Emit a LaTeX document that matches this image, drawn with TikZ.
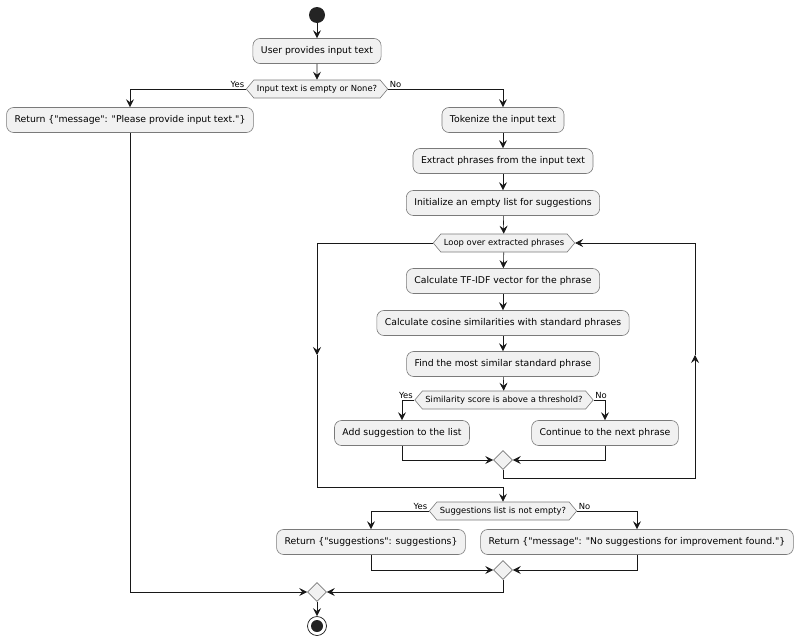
\documentclass[tikz,border=0pt]{standalone}
\usepackage{fontspec}
\setmainfont{DejaVu Sans}
\usetikzlibrary{arrows.meta,shapes.geometric,shapes.symbols}

\definecolor{caixa}{HTML}{F1F1F1}
\definecolor{linha}{HTML}{181818}
\definecolor{borda}{HTML}{7A7A7A}

\newcommand{\aspas}[1]{\textquotedbl#1\textquotedbl} % aspas retas

\tikzset{
    acao/.style={draw=borda, line width=0.6pt, fill=caixa, rounded corners=7pt,
        minimum height=25pt, inner xsep=8pt, font=\fontsize{9.3}{11}\selectfont},
    decisao/.style={draw=borda, line width=0.6pt, fill=caixa, signal, signal to=west and east,
        signal pointer angle=100, minimum height=18pt, inner xsep=3pt, inner ysep=1pt,
        font=\fontsize{8.4}{10}\selectfont},
    juncao/.style={draw=borda, line width=0.6pt, fill=caixa, diamond, minimum size=19pt, inner sep=0pt},
    fluxo/.style={draw=linha, line width=0.6pt, -{Stealth[length=8pt,width=8pt,inset=3pt]}},
    rotulo/.style={font=\fontsize{8.4}{10}\selectfont, inner sep=1.5pt}
}

\begin{document}
\begin{tikzpicture}[x=1pt, y=-1pt]
    \useasboundingbox (0,0) rectangle (800,643);

    % Início e fim
    \node[circle, fill=linha!95, minimum size=16pt, inner sep=0pt] (inicio) at (317,15) {};
    \node[circle, draw=linha, fill=white, line width=0.7pt, minimum size=19pt, inner sep=0pt] (fim) at (317,626) {};
    \fill[linha!95] (fim.center) circle (6); % Ponto interno do fim

    % Ações
    \node[acao] (entrada) at (317,51) {User provides input text};
    \node[acao] (vazio) at (130,120) {Return \{\aspas{message}: \aspas{Please provide input text.}\}};
    \node[acao] (token) at (503,120) {Tokenize the input text};
    \node[acao] (extrai) at (503,161) {Extract phrases from the input text};
    \node[acao] (lista) at (503,203) {Initialize an empty list for suggestions};
    \node[acao] (tfidf) at (503,281) {Calculate TF-IDF vector for the phrase};
    \node[acao] (cosseno) at (503,323) {Calculate cosine similarities with standard phrases};
    \node[acao] (similar) at (503,364) {Find the most similar standard phrase};
    \node[acao] (adiciona) at (402,433) {Add suggestion to the list};
    \node[acao] (continua) at (605,433) {Continue to the next phrase};
    \node[acao] (sugestoes) at (371,542) {Return \{\aspas{suggestions}: suggestions\}};
    \node[acao] (semsug) at (637,542) {Return \{\aspas{message}: \aspas{No suggestions for improvement found.}\}};

    % Decisões e laço
    \node[decisao] (teste) at (317,89) {Input text is empty or None?};
    \node[decisao] (laco) at (504,243) {Loop over extracted phrases};
    \node[decisao] (limiar) at (504,400) {Similarity score is above a threshold?};
    \node[decisao] (naovazia) at (503,511) {Suggestions list is not empty?};

    % Junções
    \node[juncao] (junta1) at (503,460) {};
    \node[juncao] (junta2) at (503,570) {};
    \node[juncao] (junta3) at (317,592) {};

    % Pontos auxiliares do laço
    \coordinate (saida1) at (317,355);
    \coordinate (saida2) at (503,487);
    \coordinate (volta1) at (695,478);
    \coordinate (volta2) at (695,355);

    % Rótulos Yes / No
    \node[rotulo, anchor=south east] at (teste.west) {Yes};
    \node[rotulo, anchor=south west] at (teste.east) {No};
    \node[rotulo, anchor=south east] at (limiar.west) {Yes};
    \node[rotulo, anchor=south west] at (limiar.east) {No};
    \node[rotulo, anchor=south east] at (naovazia.west) {Yes};
    \node[rotulo, anchor=south west] at (naovazia.east) {No};

    % Fluxo principal
    \draw[fluxo] (inicio) -- (entrada);
    \draw[fluxo] (entrada) -- (teste);
    \draw[fluxo] (teste.west) -| (vazio.north);
    \draw[fluxo] (teste.east) -| (token.north);
    \draw[fluxo] (token) -- (extrai);
    \draw[fluxo] (extrai) -- (lista);
    \draw[fluxo] (lista) -- (laco);
    \draw[fluxo] (laco) -- (tfidf);
    \draw[fluxo] (tfidf) -- (cosseno);
    \draw[fluxo] (cosseno) -- (similar);
    \draw[fluxo] (similar) -- (limiar);
    \draw[fluxo] (limiar.west) -| (adiciona.north);
    \draw[fluxo] (limiar.east) -| (continua.north);
    \draw[fluxo] (adiciona.south) |- (junta1.west);
    \draw[fluxo] (continua.south) |- (junta1.east);

    % Volta do laço
    \draw[fluxo] (junta1.south) |- (volta1) -- (volta2);
    \draw[fluxo] (volta2) |- (laco.east);

    % Saída do laço
    \draw[fluxo] (laco.west) -| (saida1);
    \draw[fluxo] (saida1) |- (saida2) -- (naovazia.north);
    \draw[fluxo] (naovazia.west) -| (sugestoes.north);
    \draw[fluxo] (naovazia.east) -| (semsug.north);
    \draw[fluxo] (sugestoes.south) |- (junta2.west);
    \draw[fluxo] (semsug.south) |- (junta2.east);
    \draw[fluxo] (junta2.south) |- (junta3.east);
    \draw[fluxo] (vazio.south) |- (junta3.west);
    \draw[fluxo] (junta3) -- (fim);
\end{tikzpicture}
\end{document}
